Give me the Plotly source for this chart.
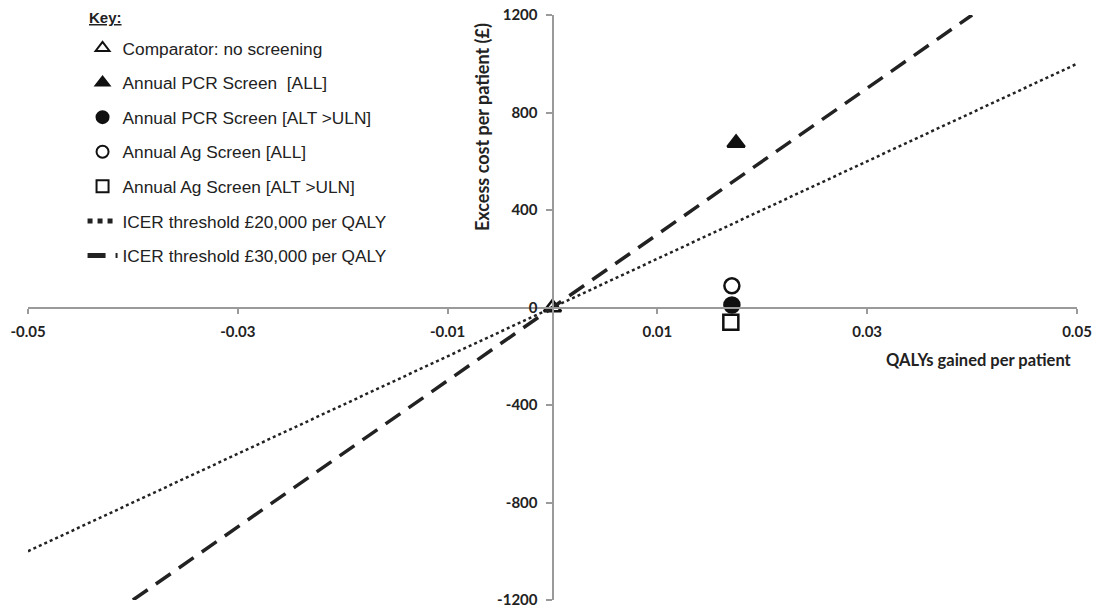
import plotly.graph_objects as go

# ---- data ----
series_names = [
    "Comparator: no screening",
    "Annual PCR Screen  [ALL]",
    "Annual PCR Screen [ALT >ULN]",
    "Annual Ag Screen [ALL]",
    "Annual Ag Screen [ALT >ULN]",
]
qaly_gained = [0.0, 0.0175, 0.0171, 0.0171, 0.0170]
excess_cost = [0, 675, 10, 89, -60]
symbols = ["triangle-up-open", "triangle-up", "circle", "circle-open", "square-open"]

icer20_x = [-0.05, 0.05]
icer20_y = [-1000, 1000]
icer30_x = [-0.04, 0.04]
icer30_y = [-1200, 1200]

x_ticks = [-0.05, -0.03, -0.01, 0.01, 0.03, 0.05]
x_tick_text = ["-0.05", "-0.03", "-0.01", "0.01", "0.03", "0.05"]
y_ticks = [-1200, -800, -400, 0, 400, 800, 1200]
y_tick_text = ["-1200", "-800", "-400", "0", "400", "800", "1200"]

INK = "#111111"
AXIS = "#9a9a9a"
LABEL_FONT = dict(family="Lato, Open Sans, sans-serif", size=15, color="#222", weight="bold")
YTITLE_FONT = dict(family="Lato, Open Sans, sans-serif", size=18, color="#222", weight="bold")
XTITLE_FONT = dict(family="Lato, Open Sans, sans-serif", size=16.5, color="#222", weight="bold")

fig = go.Figure()

for i, (name, x, y, sym) in enumerate(zip(series_names, qaly_gained, excess_cost, symbols)):
    fig.add_trace(go.Scatter(
        x=[x], y=[y], mode="markers", name=name, legendgroup=f"g{i}",
        marker=dict(symbol=sym, size=15, color=INK,
                    line=dict(color=INK, width=2.5)),
        cliponaxis=False,
    ))

fig.add_trace(go.Scatter(
    x=icer20_x, y=icer20_y, mode="lines", name="ICER threshold £20,000 per QALY",
    legendgroup="g5", line=dict(color="#222", width=2.5, dash="dot"),
))
fig.add_trace(go.Scatter(
    x=icer30_x, y=icer30_y, mode="lines", name="ICER threshold £30,000 per QALY",
    legendgroup="g6", line=dict(color="#222", width=3.5, dash="18px,10px"),
))

fig.update_layout(
    width=1099, height=608,
    margin=dict(l=28, r=22, t=15, b=8, autoexpand=False),
    paper_bgcolor="white", plot_bgcolor="white",
    font=dict(family="Liberation Sans, Arial, sans-serif", color="#222"),
    showlegend=True,
    legend=dict(
        x=0.052, y=0.974, xanchor="left", yanchor="top",
        bgcolor="rgba(255,255,255,0.9)",
        font=dict(size=17.3, color="#222"),
        traceorder="grouped", tracegroupgap=9.1,
        itemsizing="constant", itemwidth=30,
    ),
    xaxis=dict(
        range=[-0.05, 0.05], anchor="free", position=0.5, automargin=False,
        tickvals=x_ticks, ticktext=x_tick_text,
        ticks="outside", ticklen=5, tickcolor=AXIS, tickwidth=1.5,
        ticklabelstandoff=5, ticklabeloverflow="allow",
        showline=True, linecolor=AXIS, linewidth=2,
        showgrid=False, zeroline=False, tickfont=LABEL_FONT,
    ),
    yaxis=dict(
        range=[-1200, 1200], anchor="free", position=0.5, automargin=False,
        tickvals=y_ticks, ticktext=y_tick_text,
        ticks="outside", ticklen=6, tickcolor=AXIS, tickwidth=1.5,
        ticklabelstandoff=5, ticklabeloverflow="allow",
        showline=True, linecolor=AXIS, linewidth=2,
        showgrid=False, zeroline=False, tickfont=LABEL_FONT,
    ),
    annotations=[
        dict(text="<u>Key:</u>", xref="paper", yref="paper",
             x=(87 - 28) / 1049, y=(600 - 18) / 585,
             xanchor="left", yanchor="middle", showarrow=False,
             font=dict(family="Liberation Sans, Arial, sans-serif", size=15,
                       color="#222", weight="bold")),
        dict(text="Excess cost per patient (£)", xref="paper", yref="paper",
             x=(482 - 28) / 1049, y=(600 - 127) / 585, textangle=-90,
             xanchor="center", yanchor="middle",
             showarrow=False, font=YTITLE_FONT),
        dict(text="QALYs gained per patient", xref="paper", yref="paper",
             x=(979 - 28) / 1049, y=(600 - 360) / 585,
             xanchor="center", yanchor="middle",
             showarrow=False, font=XTITLE_FONT),
    ],
)

fig.write_html("out.html")
